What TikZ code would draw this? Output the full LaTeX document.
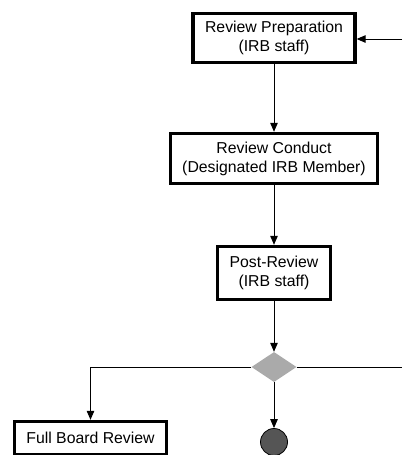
\documentclass[tikz,border=0pt]{standalone}
\usepackage{fontspec}
\setmainfont{Liberation Sans}
\usetikzlibrary{arrows.meta,shapes.geometric}
\definecolor{decgray}{RGB}{170,170,170}
\definecolor{endgray}{RGB}{85,85,85}
\tikzset{
  stepbox/.style={draw=black, line width=3.4pt, fill=white, inner xsep=12pt, inner ysep=2pt,
    align=center, font=\fontsize{15.8}{19}\selectfont},
  arr/.style={line width=1pt, -{Triangle[length=9pt,width=7.5pt]}},
  plain/.style={line width=1pt},
  decision/.style={diamond, fill=decgray, draw=none, minimum width=45pt, minimum height=30pt, inner sep=0pt},
  finalnode/.style={circle, fill=endgray, draw=black, line width=0.8pt, minimum size=27pt, inner sep=0pt}
}
\begin{document}
\begin{tikzpicture}[x=1pt, y=-1pt]
\useasboundingbox (0,0) rectangle (402,455);
\clip (0,0) rectangle (402,455);
\node[stepbox, minimum height=49pt] (prep) at (274,38) {Review Preparation\\(IRB staff)};
\node[stepbox, minimum height=50pt] (conduct) at (274,158.5) {Review Conduct\\(Designated IRB Member)};
\node[stepbox, minimum height=53pt] (post) at (274,273) {Post-Review\\(IRB staff)};
\node[decision] (dec) at (274,367) {};
\node[stepbox, minimum height=33pt] (full) at (90.5,438) {Full Board Review};
\node[finalnode] (final) at (274,442) {};
\coordinate (rin) at (402,39);
\coordinate (rout) at (402,367);
\draw[arr] (rin) -- (rin -| prep.east);
\draw[arr] (prep.south) -- (conduct.north);
\draw[arr] (conduct.south) -- (post.north);
\draw[arr] (post.south) -- (dec.north);
\draw[arr] (dec.west) -| (full.north);
\draw[plain] (dec.east) -- (dec.east -| rout);
\draw[arr] (dec.south) -- (final.north);
\end{tikzpicture}
\end{document}
